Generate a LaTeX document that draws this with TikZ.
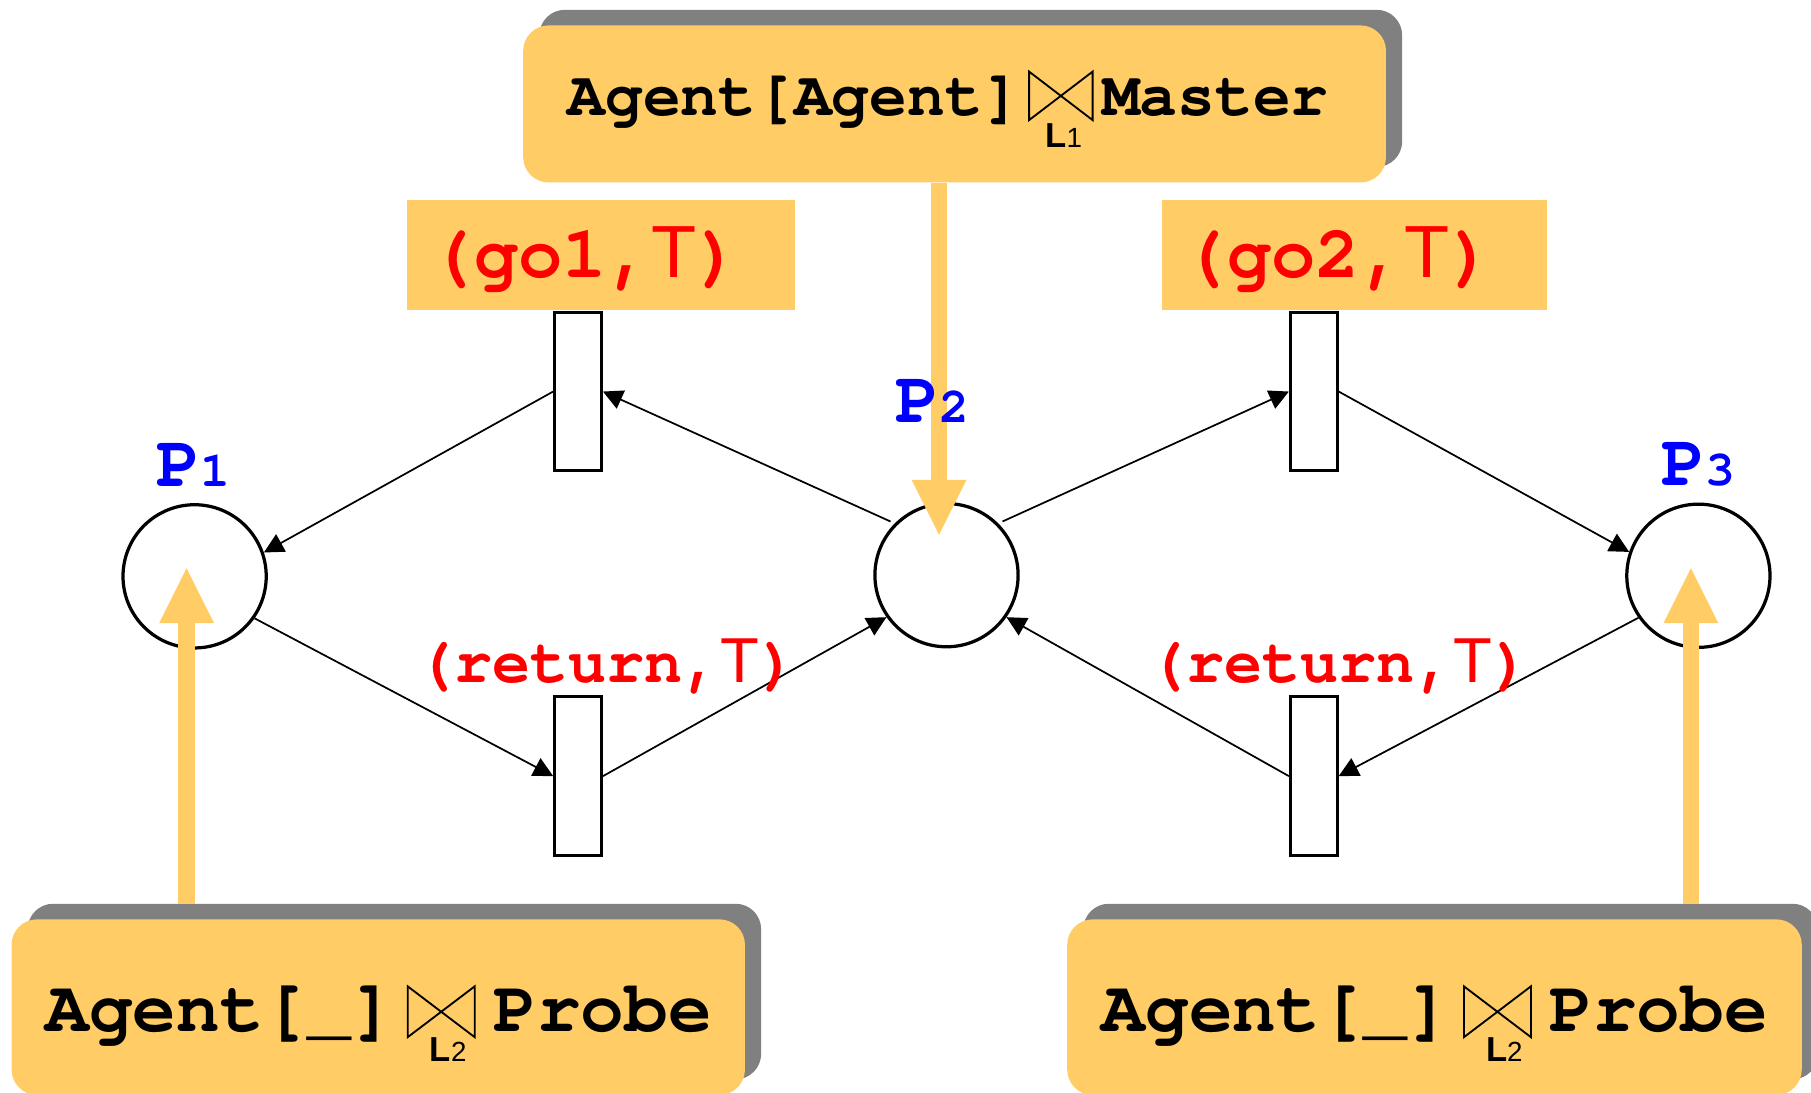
\documentclass[tikz,border=0pt]{standalone}
\usepackage{fontspec}
\setmainfont{Liberation Sans}
\newfontfamily\monofont{TeX Gyre Cursor}
\newfontfamily\sansfont{Liberation Sans}
\usetikzlibrary{arrows.meta,shadows}

\definecolor{boxorange}{HTML}{FFCC66}
\definecolor{shadowgray}{HTML}{808080}
\definecolor{labelred}{HTML}{FF0000}
\definecolor{placeblue}{HTML}{0000FF}

\newcommand{\fsz}[1]{\fontsize{#1}{#1}\selectfont}
\newcommand{\topT}{{\sansfont\mdseries T}}
\newcommand{\syncset}[1]{{\sansfont\bfseries\fsz{30}L}{\sansfont\fsz{24}#1}}

\tikzset{
  place/.style={circle, draw, line width=2.8pt, minimum size=124pt, inner sep=0pt},
  transbox/.style={rectangle, draw, line width=2.6pt, minimum width=40.5pt, minimum height=137.5pt, inner sep=0pt},
  flow/.style={line width=1.5pt, -{Triangle[length=17pt,width=17pt]}},
  feed/.style={line width=14pt, boxorange, -{Triangle[length=47.5pt,width=47.5pt,line width=0pt]}},
  procbox/.style={rectangle, rounded corners=22pt, fill=boxorange, inner sep=0pt,
    general shadow={fill=shadowgray, shadow xshift=14pt, shadow yshift=13.5pt}},
  guardbox/.style={rectangle, fill=boxorange, inner sep=0pt},
  proctext/.style={inner sep=0pt, font=\monofont\bfseries\fsz{#1}},
  guardtext/.style={inner sep=0pt, anchor=base west, text=labelred, font=\monofont\bfseries\fsz{#1}},
  placelabel/.style={inner sep=0pt, anchor=base west, text=placeblue, font=\monofont\bfseries\fsz{64}},
  bowtie/.style={line width=1.6pt, line join=miter},
  subtext/.style={inner sep=0pt, anchor=base}
}

\begin{document}
\begin{tikzpicture}[x=1pt,y=-1pt]
\useasboundingbox (0,0) rectangle (1568,946.3);
\clip (0,0) rectangle (1568,946.3);

% places
\node[place] (P1) at (168.5,499) {};
\node[place] (P2) at (819.5,498) {};
\node[place] (P3) at (1470.5,498.5) {};

% transitions
\node[transbox] (go1) at (500.5,339) {};
\node[transbox] (go2) at (1137.5,339) {};
\node[transbox] (ret1) at (500.5,672) {};
\node[transbox] (ret2) at (1137.5,672) {};

% arcs of the net
\draw[flow] (go1.west) -- (P1.19);
\draw[flow, shorten <=4pt] (P2.135) -- (go1.east);
\draw[flow] (P1.325) -- (ret1.west);
\draw[flow] (ret1.east) -- (P2.215);
\draw[flow, shorten <=4pt] (P2.45) -- (go2.west);
\draw[flow] (go2.east) -- (P3.161);
\draw[flow] (P3.215) -- (ret2.east);
\draw[flow] (ret2.west) -- (P2.325);

% guard boxes
\node[guardbox, minimum width=336pt, minimum height=95pt] (g1box) at (520,220.5) {};
\node[guardbox, minimum width=333pt, minimum height=95pt] (g2box) at (1172.5,220.5) {};
\node[guardtext=64] (g1) at (372,240) {(go1,\topT)};
\node[guardtext=64] (g2) at (1024,240) {(go2,\topT)};
\node[guardtext=55] (r1) at (360,591) {(return,\topT)};
\node[guardtext=55] (r2) at (994,591) {(return,\topT)};

% process boxes
\node[procbox, minimum width=747pt, minimum height=136pt] (master) at (826.5,90) {};
\node[procbox, minimum width=635pt, minimum height=152pt] (probeL) at (327.5,872) {};
\node[procbox, minimum width=636pt, minimum height=152pt] (probeR) at (1242,872) {};

% feeding arrows
\coordinate (t2) at (813,463);
\coordinate (t1) at (161.5,492);
\coordinate (t3) at (1464,492);
\draw[feed] (master.south -| t2) -- (t2);
\draw[feed] ([yshift=13pt]probeL.north -| t1) -- (t1);
\draw[feed] ([yshift=13pt]probeR.north -| t3) -- (t3);

% process expressions
\node[proctext=54.5, anchor=base east] (mA) at (884,100) {Agent[Agent]};
\node[proctext=54.5, anchor=base west] (mB) at (954,100) {Master};
\draw[bowtie] (891,62) -- (891,104) -- (946,62) -- (946,104) -- cycle;
\node[subtext] (mL) at (921,128) {\syncset{1}};

\node[proctext=63, anchor=base east] (aL) at (342,893) {Agent[\_]};
\node[proctext=63, anchor=base west] (bL) at (427,893) {Probe};
\draw[bowtie] (353,854) -- (353,898) -- (411,854) -- (411,898) -- cycle;
\node[subtext] (sL) at (388,919) {\syncset{2}};

\node[proctext=63, anchor=base east] (aR) at (1256.5,893) {Agent[\_]};
\node[proctext=63, anchor=base west] (bR) at (1341.5,893) {Probe};
\draw[bowtie] (1267.5,854) -- (1267.5,898) -- (1325.5,854) -- (1325.5,898) -- cycle;
\node[subtext] (sR) at (1302.5,919) {\syncset{2}};

% place names
\node[placelabel] (n1) at (135,421) {P{\fsz{43}1}};
\node[placelabel] (n2) at (775,366) {P{\fsz{43}2}};
\node[placelabel] (n3) at (1438,420) {P{\fsz{43}3}};
\end{tikzpicture}
\end{document}
